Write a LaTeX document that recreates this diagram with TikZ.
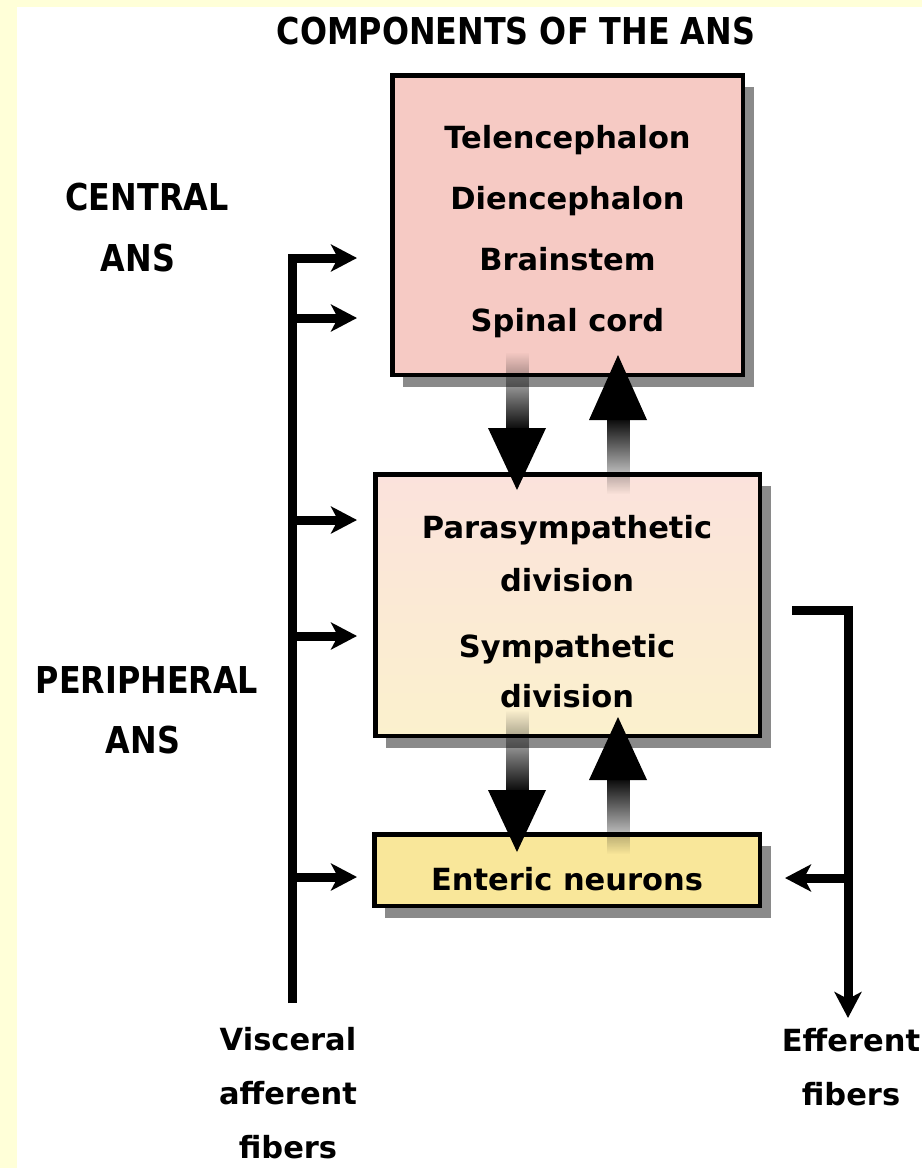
\documentclass[tikz,border=0pt]{standalone}
\usepackage{fontspec}
\setmainfont{DejaVu Sans}
\newfontfamily\headfont[FakeStretch=0.86]{DejaVu Sans}
\usetikzlibrary{arrows.meta,fadings,shadows,calc}

\definecolor{pagebg}{HTML}{FFFFD8}
\definecolor{cnsfill}{HTML}{F6CAC4}
\definecolor{pnstop}{HTML}{FBE2DC}
\definecolor{pnsbot}{HTML}{FBF1CD}
\definecolor{entfill}{HTML}{F9E79A}
\definecolor{shadowgray}{HTML}{8A8A8A}

% shafts of the thick arrows fade in towards the head
\tikzfading[name=solidbelow, top color=transparent!100, bottom color=transparent!0]
\tikzfading[name=solidabove, top color=transparent!0, bottom color=transparent!100]

\begin{document}
\begin{tikzpicture}[x=1pt,y=-1pt,
  box/.style={draw=black, line width=4.5pt, inner sep=0pt,
    drop shadow={shadow xshift=11pt, shadow yshift=-12pt, opacity=1, fill=shadowgray}},
  boxtext/.style={font=\fontsize{30.5}{61}\selectfont\bfseries, align=center, inner sep=0pt},
  heading/.style={font=\headfont\fontsize{37}{40}\selectfont\bfseries, inner sep=0pt},
  footlabel/.style={font=\fontsize{30.5}{54}\selectfont\bfseries, align=center, inner sep=0pt},
  fiber/.style={line width=9pt, line join=miter, -{Stealth[length=26pt,width=27pt,inset=7pt]}},
  shaft/.style={fill=black, fit fading=true}]

% page
\useasboundingbox (0,0) rectangle (922,1168);
\fill[pagebg] (0,0) rectangle (922,1168);
\fill[white] (17,7) rectangle (922,1168);

% title and side labels
\node[heading] (title) at (516,31) {COMPONENTS OF THE ANS};
\node[heading] (central) at (147,197) {CENTRAL};
\node[heading] (centralans) at (138,258) {ANS};
\node[heading] (peripheral) at (147,680) {PERIPHERAL};
\node[heading] (peripheralans) at (143,740) {ANS};

% the three levels
\node[box, fill=cnsfill, minimum width=350.5pt, minimum height=299.5pt] (cns) at (567.5,225) {};
\node[box, top color=pnstop, bottom color=pnsbot, minimum width=384.5pt, minimum height=261.5pt] (pns) at (567.5,605) {};
\node[box, fill=entfill, minimum width=385.5pt, minimum height=71.5pt] (ens) at (567,870) {};

% thick arrows between the levels
\fill[shaft, path fading=solidbelow] (505.5,352) rectangle (528.5,432);
\fill (488,428) -- (546,428) -- (517,490) -- cycle;
\fill[shaft, path fading=solidabove] (606.5,416) rectangle (629.5,494);
\fill (589,420) -- (647,420) -- (618,355) -- cycle;
\fill[shaft, path fading=solidbelow] (505.5,710) rectangle (528.5,794);
\fill (488,790) -- (546,790) -- (517,852) -- cycle;
\fill[shaft, path fading=solidabove] (606.5,776) rectangle (629.5,854);
\fill (589,780) -- (647,780) -- (618,717) -- cycle;

% box texts
\node[boxtext] (cnstext) at (567.5,232) {Telencephalon\\Diencephalon\\Brainstem\\Spinal cord};
\node[boxtext, font=\fontsize{30.5}{53}\selectfont\bfseries] (paratext) at (567,554) {Parasympathetic\\division};
\node[boxtext, font=\fontsize{30.5}{50}\selectfont\bfseries] (symptext) at (567,671) {Sympathetic\\division};
\node[boxtext] (enstext) at (567,879) {Enteric neurons};

% visceral afferent fibers
\coordinate (busbot) at (292,1003);
\coordinate (in1) at (357,258);
\coordinate (in2) at (357,318);
\coordinate (in3) at (357,520);
\coordinate (in4) at (357,636);
\coordinate (in5) at (357,877);
\draw[fiber] (busbot) |- (in1);
\draw[fiber] (busbot |- in2) -- (in2);
\draw[fiber] (busbot |- in3) -- (in3);
\draw[fiber] (busbot |- in4) -- (in4);
\draw[fiber] (busbot |- in5) -- (in5);

% efferent fibers
\coordinate (effstart) at (792,610);
\coordinate (effend) at (848,1018);
\coordinate (enttip) at (785,878);
\draw[fiber] (effstart) -| (effend);
\draw[fiber] (effend |- enttip) -- (enttip);

% fibre labels
\node[footlabel] (visceral) at (288,1093) {Visceral\\afferent\\fibers};
\node[footlabel] (efferent) at (851,1067) {Efferent\\fibers};
\end{tikzpicture}
\end{document}
